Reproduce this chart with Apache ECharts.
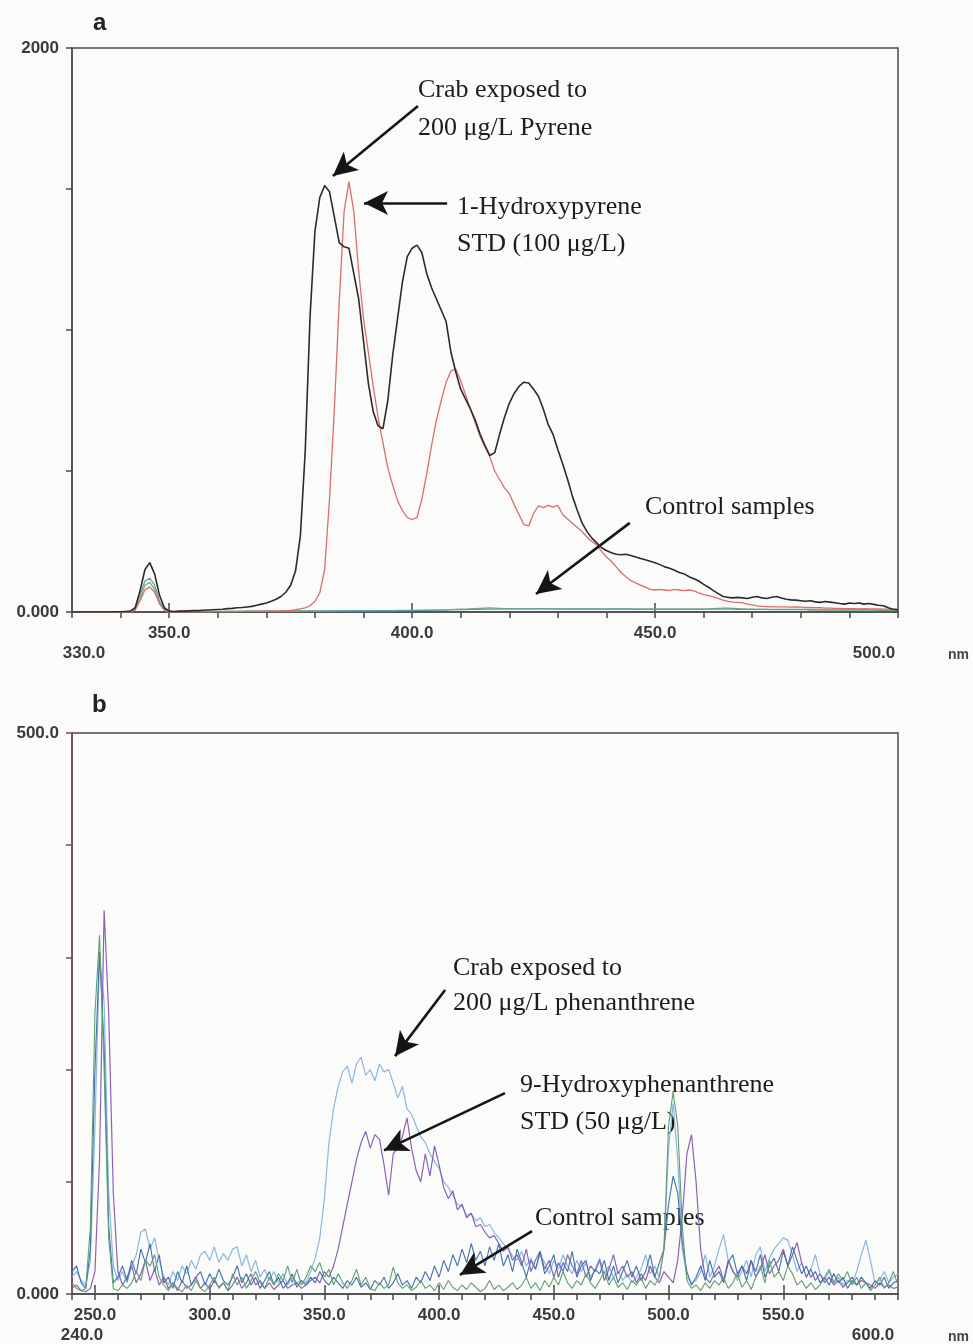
<!DOCTYPE html>
<html>
<head>
<meta charset="utf-8">
<script src="https://cdn.jsdelivr.net/npm/echarts@6/dist/echarts.min.js"></script>
<style>
  html, body { margin: 0; padding: 0; background: #fbfbf9; }
  #chart { width: 973px; height: 1344px; }
</style>
</head>
<body>
<div id="chart"></div>
<script>
// ---- Panel a: emission spectra, 330-500 nm, 1 nm steps ----
const wlA = [];
for (let w = 330; w <= 500; w += 1) wlA.push(w);

const crabPyrene = [
  0,0,0,0,0,0,0,0,0,1,
  1,2,3,15,75,150,175,135,60,15,
  3,2,3,3,4,5,5,6,7,8,
  9,10,12,13,15,16,18,20,24,28,
  32,38,45,55,70,95,145,270,570,1050,
  1350,1470,1512,1490,1400,1310,1295,1290,1200,1110,
  960,810,710,660,650,750,910,1040,1170,1260,
  1290,1301,1275,1200,1150,1110,1070,1030,920,850,
  790,755,720,680,630,590,555,565,630,690,
  740,775,800,815,812,790,765,720,665,630,
  575,525,470,410,360,315,285,262,245,228,
  218,210,205,203,205,200,195,190,185,180,
  175,168,160,155,148,140,135,125,118,110,
  98,88,76,65,55,52,50,52,50,48,
  52,55,50,48,52,55,50,45,43,42,
  40,38,40,36,34,37,35,33,30,28,
  32,30,32,28,30,27,24,22,15,10,
  8
];

const hydroxypyreneStd = [
  0,0,0,0,0,0,0,0,0,0,
  0,1,0,8,40,78,89,70,30,8,
  0,0,1,0,1,0,1,1,0,1,
  1,1,2,1,2,2,2,3,2,3,
  3,4,3,4,5,6,8,11,15,22,
  38,68,150,400,720,1100,1420,1526,1420,1210,
  1040,920,800,690,600,510,450,395,360,335,
  328,335,400,490,590,680,750,815,855,862,
  820,770,720,670,622,585,550,500,470,440,
  420,380,345,310,305,350,376,370,378,372,
  378,345,330,315,300,285,265,250,238,215,
  195,180,160,140,125,112,103,95,88,80,
  78,80,78,76,80,78,76,78,75,68,
  62,58,54,48,42,38,35,34,32,28,
  25,22,20,19,18,18,18,18,17,18,
  17,16,16,15,15,14,14,13,13,12,
  12,12,11,12,11,11,11,10,10,10,
  9
];

const controlA1 = [
  0,0,0,0,0,0,0,0,0,0,
  0,0,0,10,60,110,120,95,40,10,
  2,1,1,1,1,1,1,1,2,2,
  2,2,2,2,2,2,3,3,3,3,
  3,3,3,3,3,3,3,4,4,4,
  4,4,4,4,4,4,4,5,5,5,
  5,5,5,5,5,5,5,6,6,6,
  6,6,6,7,7,7,7,7,8,8,
  8,8,9,9,9,10,10,10,10,11,
  11,11,11,11,11,11,11,11,11,11,
  11,11,11,11,11,11,11,11,11,11,
  11,11,11,11,11,11,10,10,10,10,
  10,10,10,10,10,10,10,10,10,10,
  10,10,10,10,10,10,10,9,9,9,
  9,9,9,9,9,9,9,9,9,9,
  9,9,9,8,8,8,8,8,8,8,
  8,8,8,8,8,8,8,8,8,8,
  8
];

const controlA2 = [
  0,0,0,0,0,0,0,0,0,0,
  0,0,0,6,45,95,105,80,30,6,
  1,0,1,0,1,1,0,1,1,1,
  1,1,1,2,1,2,2,2,2,2,
  2,2,3,2,3,3,3,3,3,3,
  3,3,3,3,4,4,4,4,4,4,
  4,4,4,5,5,5,5,5,5,5,
  5,6,6,6,6,7,7,8,8,9,
  10,10,11,12,13,14,15,14,13,12,
  12,12,11,11,11,12,12,12,11,11,
  11,10,10,10,10,10,10,10,10,10,
  10,10,10,10,10,10,10,10,10,10,
  10,10,10,10,10,10,10,10,10,10,
  10,11,12,13,14,14,13,12,11,10,
  10,9,9,9,8,8,8,8,8,8,
  8,8,7,7,7,7,7,7,7,7,
  7,7,7,7,7,7,6,6,6,6,
  6
];

// ---- Panel b: emission spectra, 240-600 nm, 2 nm steps ----
const wlB = [];
for (let w = 240; w <= 600; w += 2) wlB.push(w);

const crabPhenanthrene = [
  15,20,12,8,30,150,300,260,90,25,
  12,20,10,25,35,55,58,40,50,30,
  15,8,20,12,25,18,30,22,35,38,
  30,42,28,36,30,40,42,25,35,20,
  30,15,22,12,20,10,18,8,15,10,
  12,10,20,32,50,85,135,165,185,198,
  203,188,205,211,195,200,190,205,198,200,
  188,175,185,165,160,150,140,135,125,118,
  112,100,95,88,80,78,70,72,65,68,
  60,62,55,50,45,40,34,30,38,25,
  32,22,35,28,18,30,22,35,25,18,
  30,20,28,15,22,32,18,25,15,20,
  12,18,10,15,22,35,18,25,15,40,
  130,170,120,40,15,10,12,20,35,15,
  25,40,53,30,22,12,20,30,15,35,
  42,20,32,40,45,50,48,35,20,28,
  15,22,35,18,12,20,10,15,8,12,
  10,20,35,48,30,10,12,20,10,15,
  18
];

const hydroxyphenStd = [
  5,8,3,2,5,20,120,342,250,90,
  20,8,15,25,10,18,30,12,22,8,
  15,5,10,3,12,5,8,15,5,10,
  4,12,6,10,3,8,15,5,10,18,
  8,12,5,10,4,8,12,5,8,10,
  5,8,12,15,10,20,15,25,40,60,
  80,100,120,135,145,130,142,138,115,88,
  125,130,140,157,130,110,100,125,105,132,
  115,95,85,92,75,80,68,72,60,62,
  55,50,52,45,38,42,30,35,25,40,
  20,30,38,22,30,15,28,20,35,25,
  18,30,15,25,20,30,12,22,35,18,
  25,15,20,10,18,12,25,15,10,20,
  15,10,30,70,125,142,100,40,15,10,
  18,25,12,30,20,15,25,18,30,15,
  22,35,18,25,30,40,25,35,46,28,
  15,22,12,18,10,15,8,12,6,10,
  15,8,12,10,8,5,10,6,8,5,
  6
];

const controlB1 = [
  10,5,3,5,60,250,320,200,50,5,
  3,8,5,10,20,12,30,25,35,15,
  8,3,10,5,2,8,3,12,5,2,
  8,15,5,10,3,18,8,15,5,12,
  20,10,5,15,8,18,12,25,10,22,
  8,15,25,20,28,15,22,8,18,10,
  5,12,22,8,15,5,3,10,5,8,
  24,10,5,8,3,6,12,5,8,3,
  10,4,12,6,3,8,4,10,6,2,
  5,12,4,8,3,6,10,4,8,15,
  5,10,3,12,6,15,8,20,10,5,
  12,8,18,10,5,12,20,8,15,6,
  10,4,12,8,15,5,12,8,15,40,
  150,180,150,60,12,5,8,3,10,5,
  12,8,15,5,10,18,6,12,4,15,
  25,10,30,15,20,12,25,18,8,12,
  5,10,4,8,15,22,10,18,12,20,
  8,15,5,10,3,8,15,5,10,20,
  8
];

const controlB2 = [
  20,25,10,5,40,200,305,220,60,10,
  15,25,12,30,18,40,28,45,20,35,
  10,15,5,20,10,25,8,15,20,8,
  18,10,22,12,8,15,25,10,18,8,
  15,5,12,20,8,15,5,10,18,6,
  12,8,15,10,20,12,8,15,10,5,
  12,8,15,6,10,4,12,8,15,5,
  10,18,8,12,5,15,10,20,12,25,
  15,30,20,35,25,40,28,45,30,38,
  25,42,30,45,25,35,20,40,28,15,
  30,22,38,18,25,35,15,28,20,38,
  15,25,30,12,22,18,30,12,25,10,
  20,30,15,25,12,20,35,15,28,40,
  80,105,90,45,20,8,15,25,12,30,
  15,20,10,28,35,18,25,12,30,20,
  35,15,25,32,20,38,25,42,30,18,
  25,15,20,10,15,8,18,10,15,5,
  12,8,15,10,5,12,8,15,5,10,
  12
];

// Axis label text
const yLabelsA = { 0: '0.000', 2000: '2000' };
const yLabelsB = { 0: '0.000', 500: '500.0' };
const majorTicksA = [350, 400, 450];
const majorTicksB = [250, 300, 350, 400, 450, 500, 550];

// Annotation arrows, [tail, head] in data units (nm, intensity)
const arrowsA = [
  [[401.2, 1794], [383.7, 1546]],
  [[407.2, 1450], [390.1, 1450]],
  [[444.8, 316], [425.5, 64]]
];
const arrowsB = [
  [[402.6, 271], [380.8, 212]],
  [[428.7, 179], [376.0, 128]],
  [[440.5, 56], [409.1, 17]]
];

const pairs = (xs, ys) => xs.map((x, i) => [x, ys[i]]);

const FRAME = '#4a4a4a';
const MAROON = '#7b4a5a';
const TICK_FONT = { fontFamily: '"Liberation Sans", Arial, sans-serif', fontWeight: 'bold', fontSize: 17, color: '#3a3a3a' };
const NOTE_FONT = '26px "Liberation Serif", "Times New Roman", serif';

function xAxisMain(grid, min, max, loPad, hiPad) {
  return {
    gridIndex: grid, type: 'value', min: min, max: max, interval: 10,
    axisLine: { onZero: false, lineStyle: { color: FRAME, width: 1.5 } },
    axisTick: { length: 6, lineStyle: { color: FRAME, width: 1.5 } },
    splitLine: { show: false },
    axisLabel: Object.assign({}, TICK_FONT, {
      margin: 13, showMinLabel: true, showMaxLabel: true,
      formatter: v => v === min ? '{lo|' + v.toFixed(1) + '}'
                    : v === max ? '{hi|' + v.toFixed(1) + '}'
                    : (v % 50 === 0 ? v.toFixed(1) : ''),
      rich: {
        lo: Object.assign({}, TICK_FONT, { padding: [20, 0, 0, loPad] }),
        hi: Object.assign({}, TICK_FONT, { padding: [20, hiPad, 0, 0] })
      }
    }),
    name: 'nm', nameLocation: 'end', nameGap: 50,
    nameTextStyle: { fontFamily: TICK_FONT.fontFamily, fontWeight: 'bold', fontSize: 14, color: '#444',
                     verticalAlign: 'top', padding: [36, 0, 0, 0] }
  };
}
function xAxisMajor(grid, min, max, ticks) {
  return {
    gridIndex: grid, type: 'value', min: min, max: max,
    axisLine: { show: false },
    axisTick: { show: true, customValues: ticks, length: 9, lineStyle: { color: FRAME, width: 1.5 } },
    axisLabel: { show: false },
    splitLine: { show: false }
  };
}
function yAxis(grid, max, interval, labels, color) {
  return {
    gridIndex: grid, type: 'value', min: 0, max: max, interval: interval,
    axisLine: { show: true, lineStyle: { color: color, width: 1.5 } },
    axisTick: { show: true, length: 6, lineStyle: { color: color, width: 1.5 } },
    splitLine: { show: false },
    axisLabel: Object.assign({}, TICK_FONT, {
      margin: 13, showMinLabel: true, showMaxLabel: true,
      formatter: v => labels[v] !== undefined ? labels[v] : ''
    })
  };
}
function spectrum(name, xi, yi, xs, ys, color, width, z) {
  return {
    name: name, type: 'line', xAxisIndex: xi, yAxisIndex: yi,
    data: pairs(xs, ys), showSymbol: false, symbol: 'none', z: z,
    lineStyle: { color: color, width: width }, silent: true
  };
}
function arrows(list) {
  return {
    silent: true, animation: false,
    symbol: ['none', 'arrow'], symbolSize: [18, 24],
    lineStyle: { color: '#151515', width: 2.6, type: 'solid' },
    itemStyle: { color: '#151515' },
    label: { show: false }, emphasis: { disabled: true },
    data: list.map(a => [{ coord: a[0] }, { coord: a[1] }])
  };
}
function note(text, x, y) {
  return { type: 'text', x: x, y: y, silent: true,
           style: { text: text, font: NOTE_FONT, fill: '#1c1c1c', verticalAlign: 'middle', textVerticalAlign: 'middle' } };
}

const seriesA = [
  spectrum('Control 1', 0, 0, wlA, controlA2, '#74aa74', 1.2, 2),
  spectrum('Control 2', 0, 0, wlA, controlA1, '#5f9ea8', 1.2, 3),
  spectrum('1-Hydroxypyrene STD (100 μg/L)', 0, 0, wlA, hydroxypyreneStd, '#d86f6c', 1.3, 4),
  spectrum('Crab exposed to 200 μg/L Pyrene', 0, 0, wlA, crabPyrene, '#2b2b2b', 1.6, 5)
];
seriesA[3].markLine = arrows(arrowsA);

const seriesB = [
  spectrum('Crab exposed to 200 μg/L phenanthrene', 2, 1, wlB, crabPhenanthrene, '#88b8e2', 1.2, 2),
  spectrum('9-Hydroxyphenanthrene STD (50 μg/L)', 2, 1, wlB, hydroxyphenStd, '#8c62b4', 1.2, 3),
  spectrum('Control 1', 2, 1, wlB, controlB2, '#4070ae', 1.1, 4),
  spectrum('Control 2', 2, 1, wlB, controlB1, '#5f9f70', 1.1, 5)
];
seriesB[0].markLine = arrows(arrowsB);

const chart = echarts.init(document.getElementById('chart'), null, { renderer: 'canvas' });
chart.setOption({
  animation: false,
  backgroundColor: '#fbfbf9',
  title: [
    { text: 'a', left: 88, top: 6, textStyle: { fontFamily: TICK_FONT.fontFamily, fontWeight: 'bold', fontSize: 24, color: '#222' } },
    { text: 'b', left: 87, top: 688, textStyle: { fontFamily: TICK_FONT.fontFamily, fontWeight: 'bold', fontSize: 24, color: '#222' } }
  ],
  grid: [
    { left: 72, top: 48, width: 826, height: 564, show: true, borderColor: FRAME, borderWidth: 1.5, backgroundColor: 'transparent' },
    { left: 72, top: 733, width: 826, height: 562, show: true, borderColor: FRAME, borderWidth: 1.5, backgroundColor: 'transparent' }
  ],
  xAxis: [
    xAxisMain(0, 330, 500, 24, 48),
    xAxisMajor(0, 330, 500, majorTicksA),
    xAxisMain(1, 240, 600, 20, 50),
    xAxisMajor(1, 240, 600, majorTicksB)
  ],
  yAxis: [
    yAxis(0, 2000, 500, yLabelsA, FRAME),
    yAxis(1, 500, 100, yLabelsB, MAROON)
  ],
  series: seriesA.concat(seriesB),
  graphic: [
    note('Crab exposed to', 418, 90),
    note('200 μg/L Pyrene', 418, 128),
    note('1-Hydroxypyrene', 457, 207),
    note('STD (100 μg/L)', 457, 244),
    note('Control samples', 645, 507),
    note('Crab exposed to', 453, 968),
    note('200 μg/L phenanthrene', 453, 1003),
    note('9-Hydroxyphenanthrene', 520, 1085),
    note('STD (50 μg/L)', 520, 1122),
    note('Control samples', 535, 1218)
  ]
});
</script>
</body>
</html>
